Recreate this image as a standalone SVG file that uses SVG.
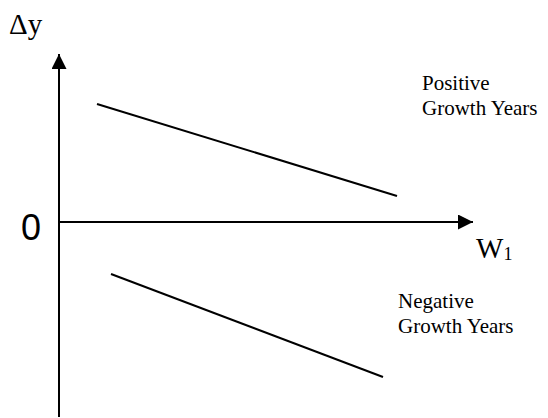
<svg xmlns="http://www.w3.org/2000/svg" width="548" height="418" viewBox="0 0 548 418">
  <style>
    .ax { stroke: #000; stroke-width: 2; fill: none; }
    .ln { stroke: #000; stroke-width: 2; fill: none; }
    .serif { font-family: "Liberation Serif", "Times New Roman", serif; fill: #000; }
    .sans { font-family: "Liberation Sans", Arial, sans-serif; fill: #000; }
  </style>
  <defs>
    <marker id="arr" markerWidth="16" markerHeight="16" refX="15" refY="7.5" orient="auto" markerUnits="userSpaceOnUse">
      <path d="M0,0 L15,7.5 L0,15 Z" fill="#000"/>
    </marker>
  </defs>
  <rect width="548" height="418" fill="#fff"/>
  <g id="connectors">
    <line id="y-axis" class="ax" x1="59" y1="417" x2="59" y2="54" marker-end="url(#arr)"/>
    <line id="x-axis" class="ax" x1="59" y1="222" x2="473" y2="222" marker-end="url(#arr)"/>
    <line id="positive-line" class="ln" x1="97" y1="104" x2="397" y2="196"/>
    <line id="negative-line" class="ln" x1="111" y1="274" x2="383" y2="377"/>
  </g>
  <g id="label-dy">
    <text class="serif" x="9" y="34" font-size="29">Δy</text>
  </g>
  <g id="label-zero">
    <text class="sans" x="21" y="240" font-size="36">0</text>
  </g>
  <g id="label-w1">
    <text class="serif" x="476" y="258" font-size="29">W<tspan font-size="18" dy="2">1</tspan></text>
  </g>
  <g id="label-positive">
    <text class="serif" x="422" y="90" font-size="21">Positive</text>
    <text class="serif" x="422" y="115" font-size="21">Growth Years</text>
  </g>
  <g id="label-negative">
    <text class="serif" x="398" y="308" font-size="21">Negative</text>
    <text class="serif" x="398" y="333" font-size="21">Growth Years</text>
  </g>
</svg>
